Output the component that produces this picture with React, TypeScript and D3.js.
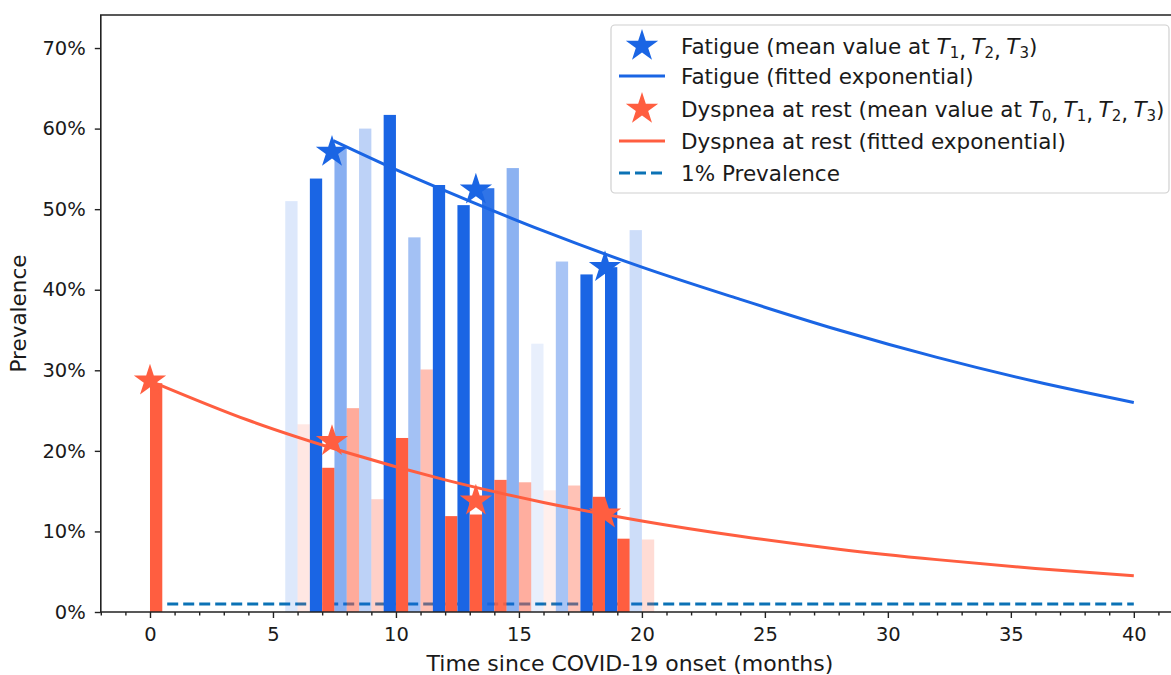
import React, { useEffect, useRef } from 'react'
import * as d3 from 'd3'

// study-level prevalence (%) plotted as bars, blue = fatigue, red = dyspnea at rest
const studyMonths = [6, 7, 8, 9, 10, 11, 12, 13, 14, 15, 16, 17, 18, 19, 20]
const fatigueBars = [51.0, 53.8, 57.7, 60.0, 61.7, 46.5, 53.0, 50.5, 52.6, 55.1, 33.3, 43.5, 41.9, 42.8, 47.4]
const dyspneaBars = [23.3, 17.9, 25.3, 14.0, 21.6, 30.1, 11.9, 12.1, 16.4, 16.1, 15.1, 15.7, 14.3, 9.1, 9.0]
const studyAlpha = [0.15, 1, 0.52, 0.29, 1, 0.4, 1, 1, 0.9, 0.5, 0.1, 0.38, 1, 1, 0.22]

// T0 baseline study (dyspnea only)
const baselineMonths = [0]
const baselineDyspnea = [28.4]

// mean values at T0..T3
const fatigueMeanMonths = [7.4, 13.25, 18.5]
const fatigueMeans = [57.1, 52.4, 42.8]
const dyspneaMeanMonths = [0, 7.4, 13.25, 18.5]
const dyspneaMeans = [28.7, 21.2, 13.8, 12.2]

// fitted exponential curves
const fatigueFitMonths = [7.45, 10, 13, 16, 20, 24, 28, 32, 36, 40]
const fatigueFit = [58.5, 54.9, 51.0, 47.3, 42.8, 38.8, 35.0, 31.6, 28.6, 26.0]
const dyspneaFitMonths = [0, 4, 8, 12, 16, 20, 24, 28, 32, 36, 40]
const dyspneaFit = [28.7, 23.8, 19.8, 16.4, 13.6, 11.3, 9.4, 7.8, 6.5, 5.4, 4.5]

// 1% prevalence reference
const thresholdMonths = [0.7, 40]
const thresholdValues = [1, 1]

const xTicks = [0, 5, 10, 15, 20, 25, 30, 35, 40]
const yTicks = [0, 10, 20, 30, 40, 50, 60, 70]

const BLUE = '#1a65e4'
const RED = '#ff5e40'
const DASH = '#0b72b5'
const FONT = '"DejaVu Sans", sans-serif'

const starPath = (cx, cy, R) => {
  const r = R * 0.382
  const pts = d3.range(10).map((i) => {
    const a = (i * Math.PI) / 5 - Math.PI / 2
    const rad = i % 2 ? r : R
    return [cx + rad * Math.cos(a), cy + rad * Math.sin(a)]
  })
  return 'M' + pts.map((p) => p.join(',')).join('L') + 'Z'
}

const PrevalenceChart = () => {
  const svgRef = useRef(null)

  useEffect(() => {
    const width = 1171
    const height = 675
    const svg = d3.select(svgRef.current).attr('width', width).attr('height', height)
    svg.selectAll('*').remove()

    const x = d3.scaleLinear().domain([-2, 42]).range([100.8, 1183])
    const y = d3.scaleLinear().domain([0, 74.1]).range([612, 15])
    const barW = 0.5

    // 1% prevalence line (under the bars)
    const line = d3
      .line()
      .x((d) => x(d[0]))
      .y((d) => y(d[1]))
    svg
      .append('path')
      .attr('d', line(thresholdMonths.map((m, i) => [m, thresholdValues[i]])))
      .attr('fill', 'none')
      .attr('stroke', DASH)
      .attr('stroke-width', 3)
      .attr('stroke-dasharray', '11,5')

    // study bars
    const bars = svg.append('g')
    studyMonths.forEach((m, i) => {
      bars
        .append('rect')
        .attr('x', x(m - barW))
        .attr('width', x(m) - x(m - barW))
        .attr('y', y(fatigueBars[i]))
        .attr('height', y(0) - y(fatigueBars[i]))
        .attr('fill', BLUE)
        .attr('fill-opacity', studyAlpha[i])
      bars
        .append('rect')
        .attr('x', x(m))
        .attr('width', x(m + barW) - x(m))
        .attr('y', y(dyspneaBars[i]))
        .attr('height', y(0) - y(dyspneaBars[i]))
        .attr('fill', RED)
        .attr('fill-opacity', studyAlpha[i])
    })
    baselineMonths.forEach((m, i) => {
      bars
        .append('rect')
        .attr('x', x(m))
        .attr('width', x(m + barW) - x(m))
        .attr('y', y(baselineDyspnea[i]))
        .attr('height', y(0) - y(baselineDyspnea[i]))
        .attr('fill', RED)
    })

    // fitted curves
    const curve = d3
      .line()
      .x((d) => x(d[0]))
      .y((d) => y(d[1]))
      .curve(d3.curveMonotoneX)
    svg
      .append('path')
      .attr('d', curve(fatigueFitMonths.map((m, i) => [m, fatigueFit[i]])))
      .attr('fill', 'none')
      .attr('stroke', BLUE)
      .attr('stroke-width', 3)
    svg
      .append('path')
      .attr('d', curve(dyspneaFitMonths.map((m, i) => [m, dyspneaFit[i]])))
      .attr('fill', 'none')
      .attr('stroke', RED)
      .attr('stroke-width', 3)

    // mean value stars
    fatigueMeanMonths.forEach((m, i) => {
      svg.append('path').attr('d', starPath(x(m), y(fatigueMeans[i]), 17)).attr('fill', BLUE)
    })
    dyspneaMeanMonths.forEach((m, i) => {
      svg.append('path').attr('d', starPath(x(m), y(dyspneaMeans[i]), 17)).attr('fill', RED)
    })

    // axes
    const xAxis = svg
      .append('g')
      .attr('transform', `translate(0,${y(0)})`)
      .call(d3.axisBottom(x).tickValues(xTicks).tickSize(6).tickPadding(9.5).tickFormat(d3.format('d')))
    const xMinor = svg
      .append('g')
      .attr('transform', `translate(0,${y(0)})`)
      .call(
        d3
          .axisBottom(x)
          .tickValues(d3.range(-2, 43).filter((v) => v % 5 !== 0))
          .tickSize(3.5)
          .tickFormat(() => '')
      )
    const yAxis = svg
      .append('g')
      .attr('transform', `translate(${x(-2)},0)`)
      .call(
        d3
          .axisLeft(y)
          .tickValues(yTicks)
          .tickSize(6)
          .tickPadding(9)
          .tickFormat((d) => `${d}%`)
      )
    ;[xAxis, xMinor, yAxis].forEach((g) => {
      g.select('.domain').remove()
      g.selectAll('line').attr('stroke', '#222').attr('stroke-width', 1.4)
      g.selectAll('text').attr('font-family', FONT).attr('font-size', 19.5).attr('fill', '#1a1a1a')
    })

    // spines
    svg
      .append('path')
      .attr('d', `M${x(42)},${y(74.1)}H${x(-2)}V${y(0)}H${x(42)}`)
      .attr('fill', 'none')
      .attr('stroke', '#222')
      .attr('stroke-width', 1.6)

    // axis labels
    svg
      .append('text')
      .attr('x', (x(-2) + x(42)) / 2 - 12)
      .attr('y', 671)
      .attr('text-anchor', 'middle')
      .attr('font-family', FONT)
      .attr('font-size', 22)
      .attr('fill', '#1a1a1a')
      .text('Time since COVID-19 onset (months)')
    svg
      .append('text')
      .attr('transform', `translate(26,${(y(0) + y(74.1)) / 2}) rotate(-90)`)
      .attr('text-anchor', 'middle')
      .attr('font-family', FONT)
      .attr('font-size', 21.5)
      .attr('fill', '#1a1a1a')
      .text('Prevalence')

    // legend
    const lg = svg.append('g')
    lg.append('rect')
      .attr('x', 611)
      .attr('y', 25)
      .attr('width', 558)
      .attr('height', 168)
      .attr('rx', 4)
      .attr('fill', 'white')
      .attr('fill-opacity', 0.8)
      .attr('stroke', '#d0d0d0')
      .attr('stroke-width', 1.2)

    const rows = [
      { type: 'star', color: BLUE, label: 'Fatigue (mean value at ', subs: ['1', '2', '3'], cy: 46 },
      { type: 'line', color: BLUE, label: 'Fatigue (fitted exponential)', cy: 76 },
      { type: 'star', color: RED, label: 'Dyspnea at rest (mean value at ', subs: ['0', '1', '2', '3'], cy: 109 },
      { type: 'line', color: RED, label: 'Dyspnea at rest (fitted exponential)', cy: 141 },
      { type: 'dash', color: DASH, label: '1% Prevalence', cy: 173 },
    ]
    rows.forEach((r) => {
      if (r.type === 'star') {
        lg.append('path').attr('d', starPath(642, r.cy, 17)).attr('fill', r.color)
      } else {
        lg.append('line')
          .attr('x1', 619)
          .attr('x2', 665)
          .attr('y1', r.cy)
          .attr('y2', r.cy)
          .attr('stroke', r.color)
          .attr('stroke-width', 3)
          .attr('stroke-dasharray', r.type === 'dash' ? '11,5' : null)
      }
      const t = lg
        .append('text')
        .attr('x', 681)
        .attr('y', r.cy + 7.5)
        .attr('font-family', FONT)
        .attr('font-size', 21.5)
        .attr('fill', '#1a1a1a')
      t.append('tspan').text(r.label)
      if (r.subs) {
        r.subs.forEach((s, i) => {
          t.append('tspan').attr('font-style', 'italic').attr('dy', i === 0 ? 0 : -4).text('T')
          t.append('tspan').attr('font-size', 15).attr('dy', 4).text(s)
          if (i < r.subs.length - 1) t.append('tspan').text(',\u2005')
        })
        t.append('tspan').attr('dy', -4).text(')')
      }
    })
  }, [])

  return <svg ref={svgRef} style={{ position: 'absolute', left: 0, top: 0 }}></svg>
}

export default function App() {
  return <PrevalenceChart />
}
